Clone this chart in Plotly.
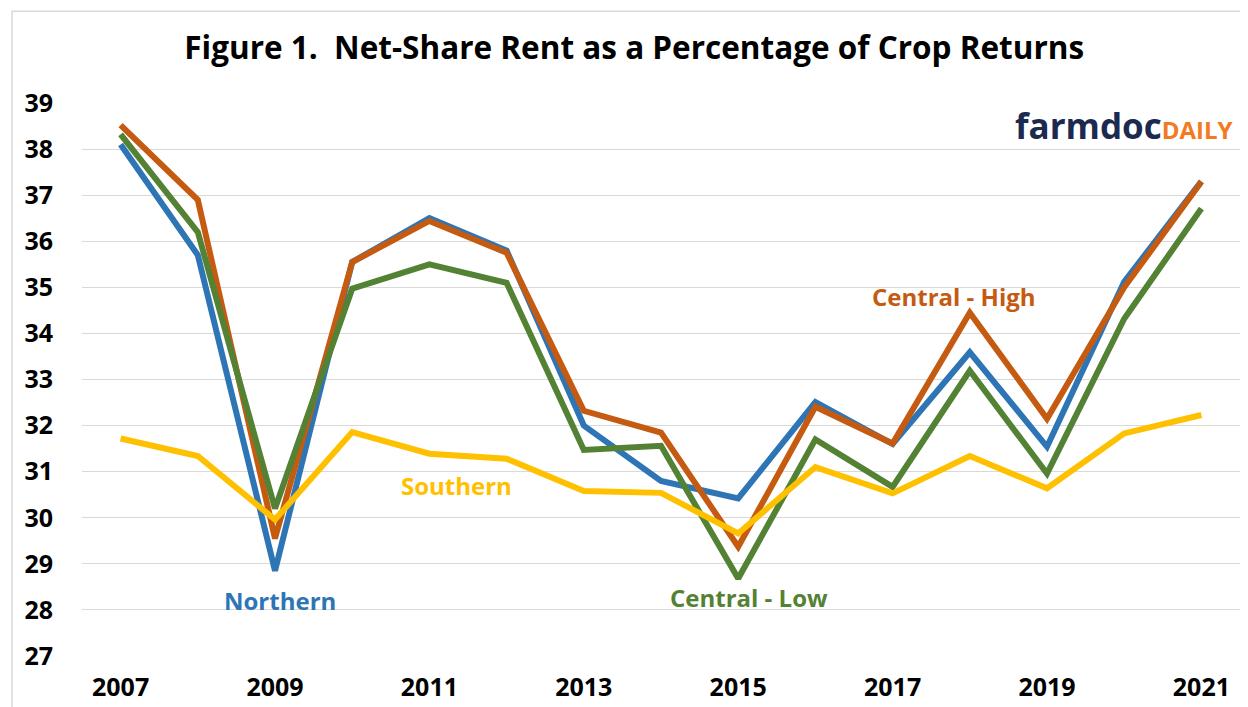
import plotly.graph_objects as go

years = list(range(2007, 2022))
northern = [38.10, 35.70, 28.85, 35.55, 36.50, 35.80, 32.00, 30.80, 30.42, 32.51, 31.60, 33.59, 31.54, 35.12, 37.30]
central_high = [38.52, 36.90, 29.55, 35.55, 36.44, 35.75, 32.32, 31.85, 29.37, 32.41, 31.61, 34.45, 32.15, 35.00, 37.29]
central_low = [38.32, 36.20, 30.20, 34.97, 35.50, 35.10, 31.47, 31.56, 28.68, 31.70, 30.67, 33.19, 30.96, 34.32, 36.71]
southern = [31.72, 31.34, 29.96, 31.86, 31.39, 31.28, 30.58, 30.54, 29.66, 31.10, 30.53, 31.34, 30.64, 31.83, 32.23]

series = [
    ("Northern", northern, "#2E75B6"),
    ("Central - High", central_high, "#C55A11"),
    ("Central - Low", central_low, "#548235"),
    ("Southern", southern, "#FFC000"),
]

labels = [
    ("Northern", 2009.06, 28.21, "#2E75B6"),
    ("Southern", 2011.35, 30.69, "#FFC000"),
    ("Central - Low", 2015.14, 28.28, "#548235"),
    ("Central - High", 2017.8, 34.81, "#C55A11"),
]

FONT = "Open Sans"

fig = go.Figure()
for name, vals, color in series:
    fig.add_trace(go.Scatter(x=years, y=vals, mode="lines", name=name,
                             line=dict(color=color, width=6), showlegend=False,
                             hoverinfo="x+y+name"))

for text, x, y, color in labels:
    fig.add_annotation(x=x, y=y, text=f"<b>{text}</b>", showarrow=False,
                       font=dict(family=FONT, size=24, color=color),
                       xanchor="center", yanchor="middle")

fig.add_annotation(xref="paper", yref="paper", x=0.9957, y=0.96,
                   text="<b><span style='color:#1B2A4E;font-size:35px'>farmdoc</span>"
                        "<span style='color:#F47920;font-size:24px'>DAILY</span></b>",
                   showarrow=False, xanchor="right", yanchor="middle",
                   font=dict(family=FONT, size=35))

fig.add_shape(type="rect", xref="paper", yref="paper",
              x0=-0.0604, x1=1.03, y0=-0.12, y1=1.1657,
              line=dict(color="#D9D9D9", width=1.5), fillcolor="rgba(0,0,0,0)",
              layer="below")

fig.update_layout(
    width=1240, height=699,
    margin=dict(l=74, r=8, t=95, b=51, autoexpand=False),
    paper_bgcolor="white", plot_bgcolor="white",
    title=dict(text="<b>Figure 1.  Net-Share Rent as a Percentage of Crop Returns</b>",
               x=0.505, xanchor="center", y=0.943, yanchor="middle",
               font=dict(family=FONT, size=31.5, color="black")),
    font=dict(family=FONT, color="black"),
)
fig.update_xaxes(range=[2006.5, 2021.5], tick0=2007, dtick=2, showgrid=False,
                 zeroline=False, showline=False, ticks="", automargin=False,
                 tickfont=dict(family=FONT, size=25, color="black"),
                 tickprefix="<b>", ticksuffix="</b>", ticklabelstandoff=14)
fig.update_yaxes(range=[27, 39], dtick=1, showgrid=True, gridcolor="#D9D9D9",
                 gridwidth=1.3, zeroline=False, showline=False, ticks="", automargin=False,
                 tickfont=dict(family=FONT, size=25, color="black"),
                 tickprefix="<b>", ticksuffix="</b>", ticklabelstandoff=28)

fig.write_html("out.html")
